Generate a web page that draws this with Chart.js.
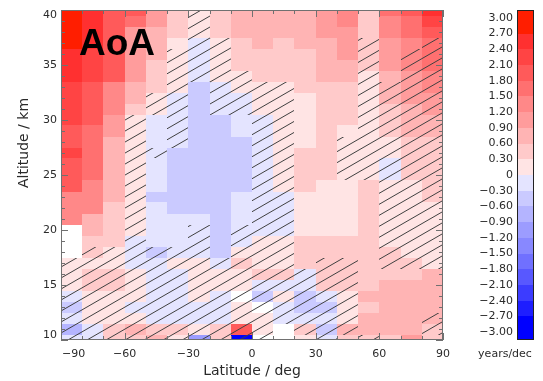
<!DOCTYPE html>
<html>
<head>
<meta charset="utf-8">
<script src="https://cdn.jsdelivr.net/npm/chart.js@4.4.1/dist/chart.umd.min.js"></script>
<style>
  html, body { margin: 0; padding: 0; background: #fff; }
  #aoaChart { display: block; }
</style>
</head>
<body>
<canvas id="aoaChart" width="543" height="381"></canvas>
<script>
// latitude bins (centre of each 10 deg band) and altitude rows (1 km, top to bottom)
var latCenters = [-85, -75, -65, -55, -45, -35, -25, -15, -5, 5, 15, 25, 35, 45, 55, 65, 75, 85];
var altCenters = [40, 39, 38, 37, 36, 35, 34, 33, 32, 31, 30, 29, 28, 27, 26, 25, 24, 23, 22, 21, 20, 19, 18, 17, 16, 15, 14, 13, 12, 11, 10];
var latTicks = [-90, -60, -30, 0, 30, 60, 90];
var altTicks = [10, 15, 20, 25, 30, 35, 40];

// colour levels, years/dec
var levelEdges = [-3.0, -2.7, -2.4, -2.1, -1.8, -1.5, -1.2, -0.9, -0.6, -0.3, 0, 0.3, 0.6, 0.9, 1.2, 1.5, 1.8, 2.1, 2.4, 2.7, 3.0];
var levelLabels = ['3.00', '2.70', '2.40', '2.10', '1.80', '1.50', '1.20', '0.90', '0.60', '0.30', '0',
                   '\u22120.30', '\u22120.60', '\u22120.90', '\u22121.20', '\u22121.50', '\u22121.80', '\u22122.10', '\u22122.40', '\u22122.70', '\u22123.00'];
var levelColors = ['#0000ff', '#1e1eff', '#3c3cff', '#5858ff', '#7070ff', '#8888ff', '#9c9cff', '#b4b4ff', '#cacaff', '#e4e4ff',
                   '#ffe4e4', '#ffcaca', '#ffb4b4', '#ff9c9c', '#ff8888', '#ff7070', '#ff5a5a', '#ff4444', '#ff3030', '#ff1e00'];

// AoA trend per altitude, one value per latitude band (null = no data)
var km40 = [2.85, 2.55, 1.95, 1.95, 1.05, 0.45, 0.15, 0.45, 0.75, 0.75, 0.75, 0.75, 1.05, 1.35, 0.45, 1.65, 1.95, 2.55];
var km39 = [2.85, 2.55, 1.95, 1.65, 1.05, 0.45, 0.15, 0.45, 0.75, 0.75, 0.75, 0.75, 1.05, 1.35, 0.45, 1.35, 1.65, 2.25];
var km38 = [2.85, 2.55, 1.95, 1.05, 0.75, 0.45, 0.15, 0.45, 0.75, 0.75, 0.75, 0.75, 1.05, 1.05, 0.45, 1.35, 1.65, 1.95];
var km37 = [2.85, 2.55, 1.95, 1.05, 0.75, 0.15, -0.15, 0.15, 0.45, 0.75, 0.45, 0.75, 0.75, 1.05, 0.45, 1.05, 1.35, 1.65];
var km36 = [2.55, 2.25, 1.95, 1.05, 0.75, 0.15, -0.15, 0.15, 0.45, 0.45, 0.45, 0.45, 0.75, 1.05, 0.45, 1.05, 1.35, 1.65];
var km35 = [2.55, 2.25, 1.95, 1.05, 0.45, 0.15, -0.15, 0.15, 0.45, 0.45, 0.45, 0.45, 0.75, 0.75, 0.45, 1.05, 1.35, 1.65];
var km34 = [2.55, 2.25, 1.95, 1.05, 0.45, 0.15, -0.15, 0.15, 0.15, 0.45, 0.45, 0.45, 0.75, 0.75, 0.15, 0.75, 1.05, 1.35];
var km33 = [2.25, 1.95, 1.35, 0.75, 0.45, 0.15, -0.45, -0.15, 0.15, 0.15, 0.15, 0.45, 0.45, 0.45, 0.15, 0.75, 1.05, 1.35];
var km32 = [2.25, 1.95, 1.35, 0.75, 0.15, -0.15, -0.45, -0.15, -0.15, 0.15, 0.15, 0.15, 0.45, 0.45, 0.15, 0.75, 1.05, 1.05];
var km31 = [2.25, 1.95, 1.35, 0.45, 0.15, -0.15, -0.45, -0.15, -0.15, 0.15, 0.15, 0.15, 0.45, 0.45, 0.15, 0.45, 0.75, 1.05];
var km30 = [2.25, 1.95, 1.05, 0.15, -0.15, -0.15, -0.45, -0.45, -0.15, -0.15, 0.15, 0.15, 0.45, 0.45, 0.15, 0.45, 0.75, 0.75];
var km29 = [1.95, 1.65, 1.05, 0.15, -0.15, -0.15, -0.45, -0.45, -0.15, -0.15, 0.15, 0.15, 0.45, 0.15, 0.15, 0.45, 0.75, 0.75];
var km28 = [1.95, 1.65, 0.75, 0.15, -0.15, -0.15, -0.45, -0.45, -0.45, -0.15, 0.15, 0.15, 0.45, 0.15, 0.15, 0.15, 0.45, 0.45];
var km27 = [2.25, 1.65, 0.75, 0.15, -0.15, -0.45, -0.45, -0.45, -0.45, -0.15, 0.15, 0.45, 0.45, 0.15, 0.15, 0.15, 0.45, 0.45];
var km26 = [1.95, 1.65, 0.75, 0.15, -0.15, -0.45, -0.45, -0.45, -0.45, -0.15, 0.15, 0.45, 0.45, 0.15, 0.15, -0.15, 0.45, 0.45];
var km25 = [1.95, 1.65, 0.75, 0.15, -0.15, -0.45, -0.45, -0.45, -0.45, -0.15, 0.15, 0.45, 0.45, 0.15, 0.15, -0.15, 0.45, 0.45];
var km24 = [1.95, 1.35, 0.75, 0.15, -0.15, -0.45, -0.45, -0.45, -0.45, -0.15, 0.15, 0.45, 0.15, 0.15, 0.45, 0.15, 0.15, 0.45];
var km23 = [1.35, 1.35, 0.75, 0.15, -0.45, -0.45, -0.45, -0.45, -0.15, -0.15, -0.15, 0.15, 0.15, 0.15, 0.45, 0.15, 0.15, 0.45];
var km22 = [1.35, 1.35, 0.45, 0.15, -0.15, -0.45, -0.45, -0.45, -0.15, -0.15, -0.15, 0.15, 0.15, 0.15, 0.45, 0.15, 0.15, 0.15];
var km21 = [1.35, 0.75, 0.45, 0.15, -0.15, -0.15, -0.15, -0.45, -0.15, -0.15, -0.15, 0.15, 0.15, 0.15, 0.45, 0.15, 0.15, 0.15];
var km20 = [null, 0.75, 0.45, 0.15, -0.15, -0.15, -0.15, -0.45, -0.15, -0.15, -0.15, 0.15, 0.15, 0.15, 0.45, 0.15, 0.15, 0.15];
var km19 = [null, 0.45, 0.45, -0.15, -0.15, -0.15, -0.15, -0.45, -0.15, 0.15, 0.15, 0.45, 0.45, 0.45, 0.45, 0.15, 0.15, 0.15];
var km18 = [null, 0.45, 0.15, -0.15, -0.45, -0.15, -0.15, -0.45, 0.15, 0.15, 0.15, 0.45, 0.45, 0.45, 0.45, 0.45, 0.15, 0.15];
var km17 = [0.15, 0.15, 0.15, -0.15, -0.15, 0.15, 0.15, -0.15, 0.45, 0.15, 0.15, 0.45, 0.45, 0.45, 0.45, 0.45, 0.45, 0.15];
var km16 = [0.15, 0.45, 0.45, 0.15, -0.15, -0.15, 0.15, 0.15, 0.15, 0.45, 0.45, -0.15, 0.45, 0.45, 0.45, 0.45, 0.45, 0.75];
var km15 = [0.15, 0.45, 0.45, 0.15, -0.15, -0.15, 0.15, 0.15, 0.15, -0.15, -0.15, -0.15, 0.45, 0.45, 0.45, 0.75, 0.75, 0.75];
var km14 = [-0.15, 0.15, 0.15, 0.15, -0.15, -0.15, 0.15, -0.15, null, -0.45, 0.15, -0.45, -0.15, 0.15, 0.75, 0.75, 0.75, 0.75];
var km13 = [-0.45, 0.15, 0.15, -0.15, -0.15, -0.15, -0.15, -0.15, 0.15, null, -0.15, -0.45, -0.45, 0.15, 0.45, 0.75, 0.75, 0.75];
var km12 = [-0.15, 0.15, 0.15, 0.15, -0.15, -0.15, -0.15, -0.15, 0.15, 0.15, -0.15, -0.15, -0.15, 0.15, 0.75, 0.75, 0.75, 0.75];
var km11 = [-0.75, -0.15, 0.45, 0.75, 0.45, 0.45, 0.15, 0.45, 1.95, 0.15, null, 0.45, -0.45, 0.75, 0.75, 0.75, 0.75, 0.45];
var km10 = [-0.15, -0.15, 0.45, 0.45, 0.75, 0.15, -1.05, 0.45, -2.85, null, null, 0.15, -0.15, 0.45, 0.45, 0.45, 1.05, 0.45];

var trendRows = [km40, km39, km38, km37, km36, km35, km34, km33, km32, km31, km30, km29, km28, km27, km26, km25,
                 km24, km23, km22, km21, km20, km19, km18, km17, km16, km15, km14, km13, km12, km11, km10];

// hatched (not significant) cells, same order as trendRows, 1 = hatched
var hatchRows = [
  '000000100000000000', '000000100000000000', '000000100000000000', '000000110000001001',
  '000001110000001011', '000001110000001011', '000001111000001011', '000001011110001111',
  '000011011110001111', '000011011110001111', '000101000110001111', '000101000110001111',
  '000101000110011111', '000110000110011111', '000100000110011111', '000100000110011111',
  '000100000110000111', '000100000110000111', '000100000110000111', '000100000110000111',
  '000100101110000111', '000100101110000111', '011111101110000111', '111111111110110111',
  '111111111111110000', '111111111111110000', '111111111111110000', '111111111111110000',
  '111111111111110001', '111111111101110001', '111111111100101000'
];

var tickFont = '11px "DejaVu Sans"';
var titleFont = '14px "DejaVu Sans"';
var textColor = '#2a2a2a';

function colorFor(v) {
    for (var i = 0; i < levelColors.length; i++) {
        if (v < levelEdges[i + 1]) return levelColors[i];
    }
    return levelColors[levelColors.length - 1];
}

function minusSign(v) {
    return String(v).replace('-', '\u2212');
}

var heatmapPlugin = {
    id: 'aoaHeatmap',
    beforeDatasetsDraw: function(chart) {
        var ctx = chart.ctx;
        var xs = chart.scales.x, ys = chart.scales.y, area = chart.chartArea;
        ctx.save();
        ctx.beginPath();
        ctx.rect(area.left, area.top, area.right - area.left, area.bottom - area.top);
        ctx.clip();

        // cells
        for (var r = 0; r < trendRows.length; r++) {
            for (var c = 0; c < latCenters.length; c++) {
                var v = trendRows[r][c];
                if (v === null) continue;
                var x0 = Math.round(xs.getPixelForValue(latCenters[c] - 5));
                var x1 = Math.round(xs.getPixelForValue(latCenters[c] + 5));
                var y0 = Math.round(ys.getPixelForValue(altCenters[r] + 0.5));
                var y1 = Math.round(ys.getPixelForValue(altCenters[r] - 0.5));
                ctx.fillStyle = colorFor(v);
                ctx.fillRect(x0, y0, x1 - x0, y1 - y0);
            }
        }

        // hatching over the non significant cells
        ctx.beginPath();
        for (r = 0; r < hatchRows.length; r++) {
            for (c = 0; c < latCenters.length; c++) {
                if (hatchRows[r].charAt(c) !== '1') continue;
                var hx0 = Math.round(xs.getPixelForValue(latCenters[c] - 5));
                var hx1 = Math.round(xs.getPixelForValue(latCenters[c] + 5));
                var hy0 = Math.round(ys.getPixelForValue(altCenters[r] + 0.5));
                var hy1 = Math.round(ys.getPixelForValue(altCenters[r] - 0.5));
                ctx.rect(hx0, hy0, hx1 - hx0, hy1 - hy0);
            }
        }
        ctx.clip();
        var slope = Math.tan(30 * Math.PI / 180);
        var w = area.right - area.left;
        ctx.strokeStyle = '#404040';
        ctx.lineWidth = 1;
        ctx.beginPath();
        for (var yy = area.top + 4; yy < area.bottom + w * slope + 12; yy += 11) {
            ctx.moveTo(area.left, yy);
            ctx.lineTo(area.right, yy - w * slope);
        }
        ctx.stroke();
        ctx.restore();
    },
    afterDraw: function(chart) {
        var ctx = chart.ctx;
        var xs = chart.scales.x, ys = chart.scales.y, cb = chart.scales.cb, area = chart.chartArea;
        var i, p, len, lab, tw;
        ctx.save();

        // frame
        ctx.strokeStyle = '#707070';
        ctx.lineWidth = 1;
        ctx.strokeRect(area.left + 0.5, area.top + 0.5, area.right - area.left - 1, area.bottom - area.top - 1);

        // inward ticks
        ctx.beginPath();
        for (i = -90; i <= 90; i += 10) {
            p = Math.round(xs.getPixelForValue(i)) + 0.5;
            len = (i % 30 === 0) ? 7 : 4;
            ctx.moveTo(p, area.bottom); ctx.lineTo(p, area.bottom - len);
            ctx.moveTo(p, area.top); ctx.lineTo(p, area.top + len);
        }
        for (i = 10; i <= 40; i++) {
            p = Math.round(ys.getPixelForValue(i)) + 0.5;
            len = (i % 5 === 0) ? 7 : 4;
            ctx.moveTo(area.left, p); ctx.lineTo(area.left + len, p);
            ctx.moveTo(area.right, p); ctx.lineTo(area.right - len, p);
        }
        ctx.stroke();

        // tick labels
        ctx.fillStyle = textColor;
        ctx.font = tickFont;
        ctx.textBaseline = 'middle';
        ctx.textAlign = 'center';
        for (i = 0; i < latTicks.length; i++) {
            lab = minusSign(latTicks[i]);
            tw = ctx.measureText(lab).width;
            p = xs.getPixelForValue(latTicks[i]);
            p = Math.max(p, area.left + tw / 2 + 1);
            ctx.fillText(lab, p, area.bottom + 14);
        }
        ctx.textAlign = 'right';
        for (i = 0; i < altTicks.length; i++) {
            p = ys.getPixelForValue(altTicks[i]);
            p = Math.min(Math.max(p, area.top + 5), area.bottom - 5);
            ctx.fillText(String(altTicks[i]), area.left - 4, p);
        }

        // axis titles
        ctx.font = titleFont;
        ctx.textAlign = 'center';
        ctx.fillText('Latitude / deg', (area.left + area.right) / 2, 371);
        ctx.save();
        ctx.translate(24, 143);
        ctx.rotate(-Math.PI / 2);
        ctx.fillText('Altitude / km', 0, 0);
        ctx.restore();

        // colour bar
        var bx = 517, bw = 16;
        var top = cb.getPixelForValue(cb.max), bottom = cb.getPixelForValue(cb.min);
        for (i = 0; i < levelColors.length; i++) {
            var ya = (i === levelColors.length - 1) ? top : cb.getPixelForValue(levelEdges[i + 1]);
            var yb = (i === 0) ? bottom : cb.getPixelForValue(levelEdges[i]);
            ctx.fillStyle = levelColors[i];
            ctx.fillRect(bx, Math.round(ya), bw, Math.round(yb) - Math.round(ya));
        }
        ctx.strokeStyle = '#222';
        ctx.strokeRect(bx + 0.5, Math.round(top) + 0.5, bw, Math.round(bottom) - Math.round(top) - 1);
        ctx.fillStyle = textColor;
        ctx.font = tickFont;
        ctx.textAlign = 'right';
        for (i = 0; i < levelLabels.length; i++) {
            p = cb.getPixelForValue(levelEdges[levelEdges.length - 1 - i]);
            ctx.fillText(levelLabels[i], bx - 4, p);
        }
        ctx.textAlign = 'center';
        ctx.fillText('years/dec', bx - 12, 354);

        // panel label
        ctx.fillStyle = '#000';
        ctx.font = 'bold 37px "Liberation Sans"';
        ctx.textAlign = 'left';
        ctx.textBaseline = 'alphabetic';
        ctx.fillText('AoA', 79, 55);
        ctx.restore();
    }
};

var ctx = document.getElementById('aoaChart');
var aoaChart = new Chart(ctx, {
    type: 'scatter',
    data: { datasets: [{ data: [], pointRadius: 0 }] },
    options: {
        responsive: false,
        animation: false,
        layout: { padding: { top: 10, right: 100, left: 0, bottom: 0 } },
        plugins: { legend: { display: false }, tooltip: { enabled: false } },
        scales: {
            x: {
                type: 'linear', min: -90, max: 90,
                afterFit: function(scale) { scale.height = 41; },
                ticks: { display: false, stepSize: 30 },
                grid: { display: false, drawTicks: false },
                border: { display: false }
            },
            y: {
                type: 'linear', min: 10, max: 40,
                afterFit: function(scale) { scale.width = 61; },
                ticks: { display: false, stepSize: 5 },
                grid: { display: false, drawTicks: false },
                border: { display: false }
            },
            cb: {
                axis: 'y', type: 'linear', position: 'right', display: false,
                min: -3.15, max: 3.15
            }
        }
    },
    plugins: [heatmapPlugin]
});
</script>
</body>
</html>
